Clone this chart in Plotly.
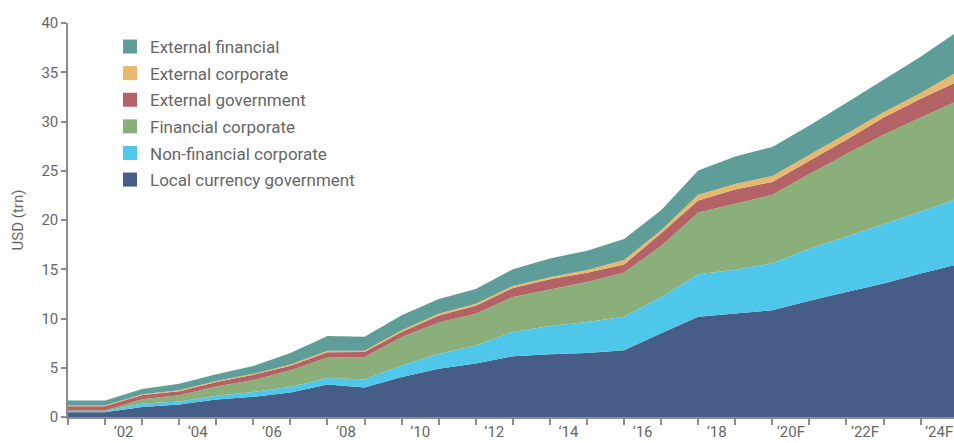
import plotly.graph_objects as go

years = list(range(2000, 2025))
local_currency_government = [0.47, 0.48, 1.02, 1.28, 1.77, 2.05, 2.48, 3.30, 3.00, 4.07, 4.90, 5.43, 6.17,
                             6.38, 6.50, 6.78, 8.50, 10.17, 10.50, 10.85, 11.80, 12.70, 13.56, 14.58, 15.50]
non_financial_corporate = [0.15, 0.12, 0.34, 0.30, 0.38, 0.50, 0.57, 0.65, 0.80, 1.15, 1.50, 1.82, 2.47,
                           2.85, 3.15, 3.40, 3.65, 4.33, 4.45, 4.75, 5.27, 5.60, 6.00, 6.27, 6.70]
financial_corporate = [0.06, 0.07, 0.43, 0.63, 0.95, 1.20, 1.70, 2.10, 2.30, 2.90, 3.20, 3.22, 3.54,
                       3.72, 4.05, 4.50, 5.20, 6.27, 6.70, 6.97, 7.60, 8.40, 9.10, 9.55, 9.90]
external_government = [0.42, 0.42, 0.45, 0.40, 0.45, 0.55, 0.45, 0.52, 0.50, 0.52, 0.70, 0.83, 0.92,
                       1.03, 0.95, 0.80, 1.30, 1.20, 1.45, 1.30, 1.35, 1.45, 1.74, 1.90, 1.95]
external_corporate = [0.08, 0.08, 0.07, 0.10, 0.10, 0.08, 0.13, 0.16, 0.12, 0.16, 0.18, 0.20, 0.20,
                      0.20, 0.27, 0.45, 0.30, 0.60, 0.55, 0.60, 0.60, 0.60, 0.55, 0.60, 1.00]
external_financial = [0.50, 0.50, 0.54, 0.66, 0.69, 0.80, 1.18, 1.50, 1.42, 1.52, 1.50, 1.50, 1.70,
                      1.92, 1.96, 2.14, 2.05, 2.45, 2.80, 2.95, 2.98, 3.15, 3.30, 3.68, 4.10]

series_names = ["Local currency government", "Non-financial corporate", "Financial corporate",
                "External government", "External corporate", "External financial"]
series_values = [local_currency_government, non_financial_corporate, financial_corporate,
                 external_government, external_corporate, external_financial]
colors = ["#455D87", "#4EC7EA", "#8AAF7A", "#B36365", "#E6B96E", "#5F9E98"]

tick_labels = ["\u201802", "\u201804", "\u201806", "\u201808", "\u201810", "\u201812",
               "\u201814", "\u201816", "\u201818", "\u201820F", "\u201822F", "\u201824F"]
label_years = [2002, 2004, 2006, 2008, 2010, 2012, 2014, 2016, 2018, 2020, 2022, 2024]

FONT = "Roboto, Liberation Sans, sans-serif"
GREY = "#666666"
AXIS = "#8c8c8c"

W, H = 954, 443
L, R, T, B = 68, 0, 23, 26
PW, PH = W - L - R, H - T - B

fig = go.Figure()
for name, vals, col in zip(series_names, series_values, colors):
    fig.add_trace(go.Scatter(x=years, y=vals, name=name, stackgroup="one", mode="none",
                             fillcolor=col, showlegend=False, hoverinfo="x+y+name"))

# legend entries (square swatches), top entry first
for i, (name, col) in enumerate(zip(series_names[::-1], colors[::-1])):
    fig.add_trace(go.Scatter(x=[None], y=[None], mode="markers", name=name,
                             marker=dict(symbol="square", size=14, color=col),
                             legendgroup="g%d" % i, showlegend=True))

leg_left = 110
leg_top = 29
fig.update_layout(
    width=W, height=H,
    margin=dict(l=L, r=R, t=T, b=B, autoexpand=False),
    paper_bgcolor="white", plot_bgcolor="white",
    font=dict(family=FONT, color=GREY, size=15),
    legend=dict(x=(leg_left - L) / PW, y=(H - B - leg_top) / PH,
                xanchor="left", yanchor="top", traceorder="grouped", tracegroupgap=1.5,
                font=dict(family=FONT, size=17, color=GREY), bgcolor="rgba(0,0,0,0)",
                itemwidth=30),
    showlegend=True,
)
fig.update_xaxes(
    range=[2000, 2000 + PW / 37.07],
    automargin=False,
    tickmode="array",
    tickvals=[y - 0.5 for y in label_years],
    ticktext=tick_labels,
    ticks="",
    showgrid=False, zeroline=False,
    showline=True, linecolor=AXIS, linewidth=1.5,
    tickfont=dict(family=FONT, size=15, color=GREY),
    minor=dict(tickmode="array", tickvals=years, ticks="outside", ticklen=6,
               tickcolor=AXIS, tickwidth=1.5, showgrid=False),
)
fig.update_yaxes(
    range=[0, 40],
    automargin=False,
    tickmode="array", tickvals=list(range(0, 41, 5)),
    ticks="outside", ticklen=5, tickcolor=AXIS, tickwidth=1.5,
    showgrid=False, zeroline=False,
    showline=True, linecolor=AXIS, linewidth=1.5,
    tickfont=dict(family=FONT, size=15, color=GREY),
    title=dict(text="USD (trn)", font=dict(family=FONT, size=15, color=GREY), standoff=14),
)

fig.write_html("out.html",
               config={"displayModeBar": False},
               post_script="document.body.style.margin='0';document.body.style.overflow='hidden';")
